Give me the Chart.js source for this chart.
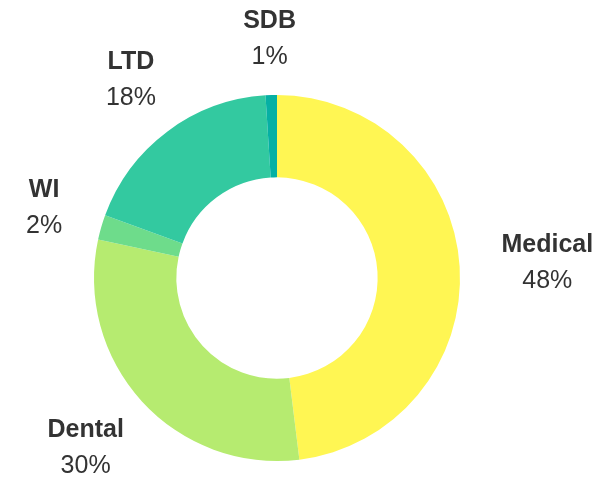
<!DOCTYPE html>
<html>
<head>
<meta charset="utf-8">
<script src="https://cdn.jsdelivr.net/npm/chart.js@4.4.0/dist/chart.umd.min.js"></script>
<style>
  html, body { margin: 0; padding: 0; background: #fff; }
  #wrap { width: 609px; height: 477px; }
</style>
</head>
<body>
<div id="wrap"><canvas id="donut"></canvas></div>
<script>
const categories = ['Medical', 'Dental', 'WI', 'LTD', 'SDB'];
const shares = [48.0, 30.3, 2.2, 18.4, 1.0];
const sliceColors = ['#fff653', '#b6eb70', '#6edc8b', '#33c9a0', '#06b0a4'];

// draws "Name / xx%" outside each slice
const outsideLabels = {
  id: 'outsideLabels',
  afterDatasetsDraw(chart) {
    const ctx = chart.ctx;
    const meta = chart.getDatasetMeta(0);
    const total = shares.reduce((a, b) => a + b, 0);
    const boldFont = 'bold 25px "Liberation Sans", Arial, sans-serif';
    const normFont = '25px "Liberation Sans", Arial, sans-serif';
    ctx.save();
    ctx.textAlign = 'center';
    ctx.textBaseline = 'alphabetic';
    meta.data.forEach((arc, i) => {
      const mid = (arc.startAngle + arc.endAngle) / 2;
      const vx = Math.cos(mid), vy = Math.sin(mid);
      const pct = Math.round(shares[i] / total * 100) + '%';
      ctx.font = boldFont;
      const w1 = ctx.measureText(categories[i]).width;
      ctx.font = normFont;
      const w2 = ctx.measureText(pct).width;
      const w = Math.max(w1, w2), h = 60;
      const k = arc.outerRadius + 27 + 15 * Math.abs(vx);
      const cx = arc.x + vx * k + vx * w / 2;
      const cy = arc.y + vy * k + vy * h / 2;
      ctx.fillStyle = '#333333';
      ctx.font = boldFont;
      ctx.fillText(categories[i], cx, cy - 10);
      ctx.font = normFont;
      ctx.fillText(pct, cx, cy + 26);
    });
    ctx.restore();
  }
};

new Chart('donut', {
  type: 'doughnut',
  data: {
    labels: categories,
    datasets: [{
      data: shares,
      backgroundColor: sliceColors,
      borderWidth: 0,
      hoverOffset: 0
    }]
  },
  options: {
    responsive: true,
    maintainAspectRatio: false,
    animation: false,
    cutout: '55%',
    layout: { padding: { top: 95, bottom: 16, left: 94, right: 149 } },
    plugins: {
      legend: { display: false },
      tooltip: { enabled: false }
    }
  },
  plugins: [outsideLabels]
});
</script>
</body>
</html>
